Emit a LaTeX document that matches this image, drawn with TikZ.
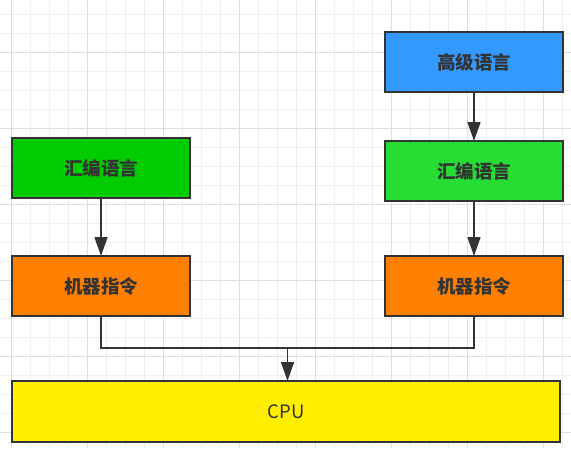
\documentclass[tikz,border=0pt]{standalone}
\usepackage{fontspec}
\usepackage{tikz}
\usetikzlibrary{arrows.meta,positioning,calc}
\newfontfamily\cjk{Noto Sans CJK SC}
\definecolor{LineGray}{HTML}{333333}
\definecolor{GridMinor}{HTML}{EEEEEE}
\definecolor{GridMajor}{HTML}{DEDEDE}
\definecolor{SkyBlue}{HTML}{3399FF}
\definecolor{DeepGreen}{HTML}{00CC00}
\definecolor{BrightGreen}{HTML}{26DD33}
\definecolor{CodeOrange}{HTML}{FF8000}
\definecolor{CpuYellow}{HTML}{FFEE00}
\tikzset{
  box/.style={draw=LineGray, line width=1.6pt, outer sep=0pt, minimum width=178pt, minimum height=60pt, inner sep=0pt, align=center, text=LineGray, font=\cjk\bfseries\fontsize{18.5}{20}\selectfont},
  bluebox/.style={box, fill=SkyBlue},
  greenbox/.style={box, fill=BrightGreen},
  darkgreenbox/.style={box, fill=DeepGreen},
  orangebox/.style={box, fill=CodeOrange},
  cpubox/.style={box, fill=CpuYellow, minimum width=548pt, minimum height=61pt, font=\cjk\fontsize{18.5}{20}\selectfont},
  link/.style={line width=1.6pt, draw=LineGray},
  arrow/.style={-{Triangle[length=19pt, width=13pt]}, line width=1.6pt, draw=LineGray}
}

\begin{document}
\begin{tikzpicture}[x=1pt, y=-1pt, node distance=49pt]
\useasboundingbox (0,0) rectangle (571,448);
% grid paper
\foreach \k in {0,...,29} \draw[GridMinor, line width=0.8pt] ({11.7+19*\k},0) -- ++(0,448);
\foreach \k in {0,...,22} \draw[GridMinor, line width=0.8pt] (0,{14+19*\k}) -- ++(571,0);
\foreach \k in {0,...,7} \draw[GridMajor, line width=0.8pt] ({11.7+76*\k},0) -- ++(0,448);
\foreach \k in {0,...,5} \draw[GridMajor, line width=0.8pt] (0,{52.3+76*\k}) -- ++(571,0);
% boxes
\node[bluebox] (high) at (474,62) {高级语言};
\node[greenbox, below=of high] (asmR) {汇编语言};
\node[orangebox, below=55pt of asmR] (mcodeR) {机器指令};
\node[darkgreenbox, left=195pt of asmR, yshift=3pt] (asmL) {汇编语言};
\node[orangebox, left=195pt of mcodeR] (mcodeL) {机器指令};
\node[cpubox, below=65pt of mcodeL.south west, anchor=north west] (cpu) {CPU};
\coordinate (join) at ($(mcodeL.south)!0.5!(mcodeR.south)+(0,32)$);
% connectors
\draw[arrow] (high) -- (asmR);
\draw[arrow] (asmR) -- (mcodeR);
\draw[arrow] (asmL) -- (mcodeL);
\draw[link] (mcodeL.south) |- (join) -| (mcodeR.south);
\draw[arrow] (join) -- (join |- cpu.north);
\end{tikzpicture}
\end{document}
